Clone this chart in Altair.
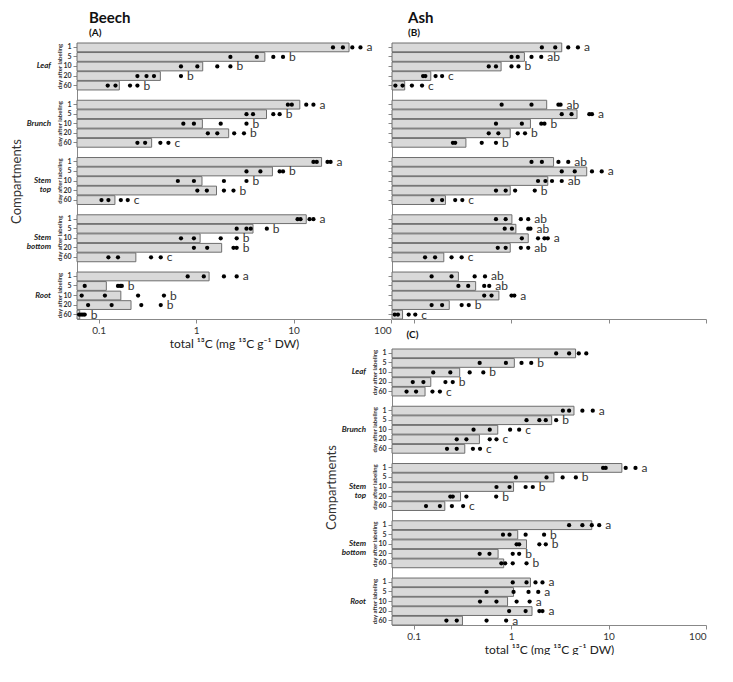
import altair as alt
import pandas as pd

comps = ["Leaf", "Brunch", "Stem top", "Stem bottom", "Root"]
days = ["1", "5", "10", "20", "60"]

# ---------------- Panel A: Beech ----------------
beech_mean = {
    "Leaf": [37.1, 5.08, 1.17, 0.43, 0.163],
    "Brunch": [11.6, 5.28, 1.16, 2.16, 0.35],
    "Stem top": [19.4, 6.07, 1.15, 1.62, 0.147],
    "Stem bottom": [13.5, 3.84, 1.10, 1.83, 0.241],
    "Root": [1.36, 0.120, 0.169, 0.215, 0.064],
}
beech_reps = {
    "Leaf": [[25.4, 32.1, 40.1, 48.6], [2.25, 4.2, 6.2, 7.8], [0.70, 1.03, 1.65, 2.25],
             [0.25, 0.31, 0.37, 0.70], [0.124, 0.149, 0.21, 0.25]],
    "Brunch": [[8.75, 9.6, 13.5, 16.0], [3.29, 3.84, 6.2, 7.2], [0.74, 0.95, 1.79, 3.29],
               [1.32, 1.65, 2.46, 3.10], [0.25, 0.30, 0.43, 0.52]],
    "Stem top": [[16.0, 17.3, 22.3, 24.0], [3.29, 4.57, 7.2, 7.8], [0.65, 0.95, 1.93, 3.29],
                 [1.03, 1.29, 1.93, 2.42], [0.107, 0.126, 0.169, 0.199]],
    "Stem bottom": [[11.0, 11.8, 14.6, 16.0], [2.61, 3.29, 3.64, 5.32], [0.70, 0.95, 1.79, 2.61],
                    [0.95, 1.30, 2.42, 2.61], [0.126, 0.158, 0.345, 0.434]],
    "Root": [[0.82, 1.20, 1.93, 2.61], [0.072, 0.158, 0.167, 0.173], [0.067, 0.116, 0.254, 0.468],
             [0.078, 0.136, 0.274, 0.434], [0.063, 0.066, 0.069, 0.072]],
}
beech_letters = {
    "Leaf": ["a", "b", "b", "b", "b"],
    "Brunch": ["a", "b", "b", "b", "c"],
    "Stem top": ["a", "b", "b", "b", "c"],
    "Stem bottom": ["a", "b", "b", "b", "c"],
    "Root": ["a", "b", "b", "b", "b"],
}

# ---------------- Panel B: Ash ----------------
ashB_mean = {
    "Leaf": [3.31, 1.37, 0.79, 0.150, 0.081],
    "Brunch": [2.32, 4.75, 1.58, 0.98, 0.344],
    "Stem top": [2.73, 5.97, 2.38, 0.98, 0.212],
    "Stem bottom": [1.02, 1.12, 1.50, 0.98, 0.204],
    "Root": [0.288, 0.433, 0.75, 0.232, 0.077],
}
ashB_reps = {
    "Leaf": [[2.07, 2.84, 3.86, 4.85], [1.01, 1.17, 1.62, 2.04], [0.59, 0.70, 1.01, 1.19],
             [0.125, 0.132, 0.168, 0.196], [0.065, 0.077, 0.096, 0.122]],
    "Brunch": [[0.80, 1.62, 3.06, 3.22], [3.31, 4.17, 6.35, 6.76], [0.70, 1.29, 2.04, 2.20],
               [0.59, 0.74, 1.17, 1.39], [0.253, 0.267, 0.50, 0.70]],
    "Stem top": [[1.62, 2.07, 3.06, 3.86], [3.31, 4.50, 6.76, 8.51], [1.89, 2.25, 2.63, 3.31],
                 [0.70, 0.88, 1.10, 1.75], [0.156, 0.196, 0.267, 0.316]],
    "Stem bottom": [[0.70, 0.88, 1.26, 1.50], [0.86, 1.02, 1.50, 1.58], [1.29, 1.89, 2.20, 2.38],
                    [0.73, 0.88, 1.26, 1.50], [0.131, 0.166, 0.245, 0.311]],
    "Root": [[0.153, 0.245, 0.423, 0.54], [0.288, 0.363, 0.53, 0.597], [0.53, 0.63, 1.01, 1.08],
             [0.153, 0.196, 0.311, 0.368], [0.064, 0.069, 0.089, 0.104]],
}
ashB_letters = {
    "Leaf": ["a", "ab", "b", "c", "c"],
    "Brunch": ["ab", "a", "b", "b", "b"],
    "Stem top": ["ab", "a", "ab", "b", "c"],
    "Stem bottom": ["ab", "ab", "a", "ab", "c"],
    "Root": ["ab", "ab", "a", "b", "c"],
}

# ---------------- Panel C ----------------
ashC_mean = {
    "Leaf": [4.59, 1.08, 0.297, 0.150, 0.131],
    "Brunch": [4.42, 2.61, 0.73, 0.473, 0.335],
    "Stem top": [13.7, 2.75, 1.06, 0.303, 0.209],
    "Stem bottom": [6.73, 1.17, 1.44, 0.736, 0.84],
    "Root": [1.58, 1.06, 0.92, 1.64, 0.317],
}
ashC_reps = {
    "Leaf": [[2.90, 3.94, 4.95, 5.91], [0.476, 0.885, 1.28, 1.61], [0.159, 0.238, 0.376, 0.519],
             [0.098, 0.126, 0.212, 0.252], [0.0846, 0.106, 0.156, 0.186]],
    "Brunch": [[3.40, 3.94, 5.39, 6.89], [1.44, 1.95, 2.27, 2.90], [0.412, 0.604, 0.977, 1.21],
               [0.277, 0.348, 0.604, 0.708], [0.22, 0.277, 0.406, 0.48]],
    "Stem top": [[8.79, 9.35, 15.0, 18.9], [1.12, 2.31, 3.38, 4.62], [0.708, 0.964, 1.41, 1.67],
                 [0.238, 0.252, 0.348, 0.703], [0.134, 0.186, 0.247, 0.322]],
    "Stem bottom": [[3.94, 5.39, 6.73, 8.02], [0.826, 0.964, 1.41, 2.18], [1.14, 1.21, 1.95, 2.27],
                    [0.476, 0.60, 1.04, 1.21], [0.794, 0.87, 1.04, 1.44]],
    "Root": [[1.04, 1.44, 1.78, 2.10], [0.56, 1.06, 1.51, 1.90], [0.48, 0.708, 1.14, 1.55],
             [0.955, 1.41, 1.95, 2.10], [0.217, 0.277, 0.56, 0.89]],
}
ashC_letters = {
    "Leaf": ["", "b", "b", "b", "c"],
    "Brunch": ["a", "b", "c", "c", "c"],
    "Stem top": ["a", "b", "b", "b", "c"],
    "Stem bottom": ["a", "b", "b", "b", "b"],
    "Root": ["a", "a", "a", "a", "a"],
}

FONT = "Lato"
XTITLE = "total ¹³C (mg ¹³C g⁻¹ DW)"
W = 314
H = 276

# category order on the y axis: 5 days per compartment, one empty row between compartments
y_domain = []
for gi, c in enumerate(comps):
    if gi > 0:
        y_domain.append(f"gap{gi}")
    y_domain += [f"{c}|{d}" for d in days]


def panel_df(means, reps, letters):
    rows = []
    for c in comps:
        for i, d in enumerate(days):
            key = f"{c}|{d}"
            rows.append(dict(comp=c, day=d, key=key, kind="bar", value=means[c][i], label=""))
            for r in reps[c][i]:
                rows.append(dict(comp=c, day=d, key=key, kind="dot", value=r, label=""))
            top = max([means[c][i]] + reps[c][i])
            rows.append(dict(comp=c, day=d, key=key, kind="letter", value=top,
                             label=letters[c][i]))
    return pd.DataFrame(rows)


TICK_OP = {"condition": {"test": "indexof(datum.value, '|') < 0", "value": 0}, "value": 1}


def panel(df, show_labels, title=None, xtitle_override=None):
    common = dict(values=[0.1, 1, 10, 100], format="~g", grid=False, tickSize=4,
                  labelFontSize=10, labelPadding=2,
                  domainColor="#888", tickColor="#888", labelColor="#333")
    if show_labels:
        xaxis = alt.Axis(labels=True, title=XTITLE, titleFontSize=12,
                         titleFontWeight="normal", titlePadding=3, titleColor="#222",
                         **common)
    else:
        xaxis = alt.Axis(labels=False, title=xtitle_override, titleFontSize=10,
                         titleFontWeight="bold", titleColor="#111",
                         titleAlign="left", titleBaseline="alphabetic",
                         titleX=14, titleY=18, **common)
    x = alt.X("value:Q", scale=alt.Scale(type="log", domain=[0.06, 100]), axis=xaxis)
    if show_labels:
        yaxis = alt.Axis(title="Compartments", titleX=-61, titleY=H / 2, titleAngle=270,
                         titleAlign="center", titleBaseline="middle", titleFontSize=13,
                         titleFontWeight="normal", titleColor="#333",
                         labelExpr="indexof(datum.value, '|') >= 0 ? split(datum.value, '|')[1] : ''",
                         labelFontSize=7, labelFontWeight="bold", labelPadding=2,
                         tickSize=4, tickOpacity=TICK_OP, domainColor="#888",
                         tickColor="#888", labelColor="#333")
    else:
        yaxis = alt.Axis(labels=False, title=None, tickSize=4, tickOpacity=TICK_OP,
                         domainColor="#888", tickColor="#888")
    y = alt.Y("key:N", scale=alt.Scale(domain=y_domain, paddingInner=0.08, paddingOuter=0),
              axis=yaxis)
    base = alt.Chart(df)
    layers = [
        base.transform_filter("datum.kind == 'bar'").mark_bar(
            fill="#d9d9d9", stroke="#6e6e6e", strokeWidth=1, orient="horizontal"
        ).encode(x=x, x2=alt.X2(datum=0.06), y=y),
        base.transform_filter("datum.kind == 'dot'").mark_circle(
            size=18, color="black", opacity=1
        ).encode(x=x, y=y),
        base.transform_filter("datum.kind == 'letter'").mark_text(
            align="left", baseline="middle", dx=6, fontSize=12, color="#333", font=FONT
        ).encode(x=x, y=y, text="label:N"),
    ]
    if show_labels:
        mid = base.transform_filter("datum.kind == 'bar' && datum.day == '10'")
        layers.append(mid.mark_text(
            align="right", baseline="middle", fontSize=8, fontWeight="bold",
            fontStyle="italic", color="#222", lineBreak=" ", lineHeight=9, font=FONT
        ).encode(x=alt.value(-26), y=y, text="comp:N"))
        layers.append(mid.mark_text(
            align="center", baseline="middle", fontSize=6, fontWeight="bold",
            color="#333", angle=270, font=FONT
        ).encode(x=alt.value(-17), y=y, text=alt.value("day after labeling")))
    ch = alt.layer(*layers).properties(width=W, height=H)
    if title is not None:
        ch = ch.properties(title=title)
    return ch


chartA = panel(panel_df(beech_mean, beech_reps, beech_letters), True,
               alt.TitleParams(text="Beech", subtitle="(A)", anchor="start", frame="group",
                               fontSize=15, subtitleFontSize=10, subtitleFontWeight="bold",
                               subtitleColor="#111", color="#111", dx=12, offset=3,
                               subtitlePadding=2))
chartB = panel(panel_df(ashB_mean, ashB_reps, ashB_letters), False,
               alt.TitleParams(text="Ash", subtitle="(B)", anchor="start", frame="group",
                               fontSize=15, subtitleFontSize=10, subtitleFontWeight="bold",
                               subtitleColor="#111", color="#111", dx=16, offset=3,
                               subtitlePadding=2),
               xtitle_override="(C)")
chartC = panel(panel_df(ashC_mean, ashC_reps, ashC_letters), True)

# empty cell below panel A (2 x 2 grid: A | B / empty | C)
spacer = alt.Chart(pd.DataFrame({"s": [0]})).mark_point(opacity=0, size=1).encode(
    x=alt.value(0), y=alt.value(0)
).properties(width=1, height=1)

chart = alt.concat(chartA, chartB, spacer, chartC, columns=2,
                   spacing={"row": -12, "column": -79}).properties(
    padding={"left": 2, "top": 3, "right": 0, "bottom": 0}
).configure(font=FONT).configure_view(stroke=None)

chart.save("out.html", embed_options={"renderer": "svg", "actions": False})
